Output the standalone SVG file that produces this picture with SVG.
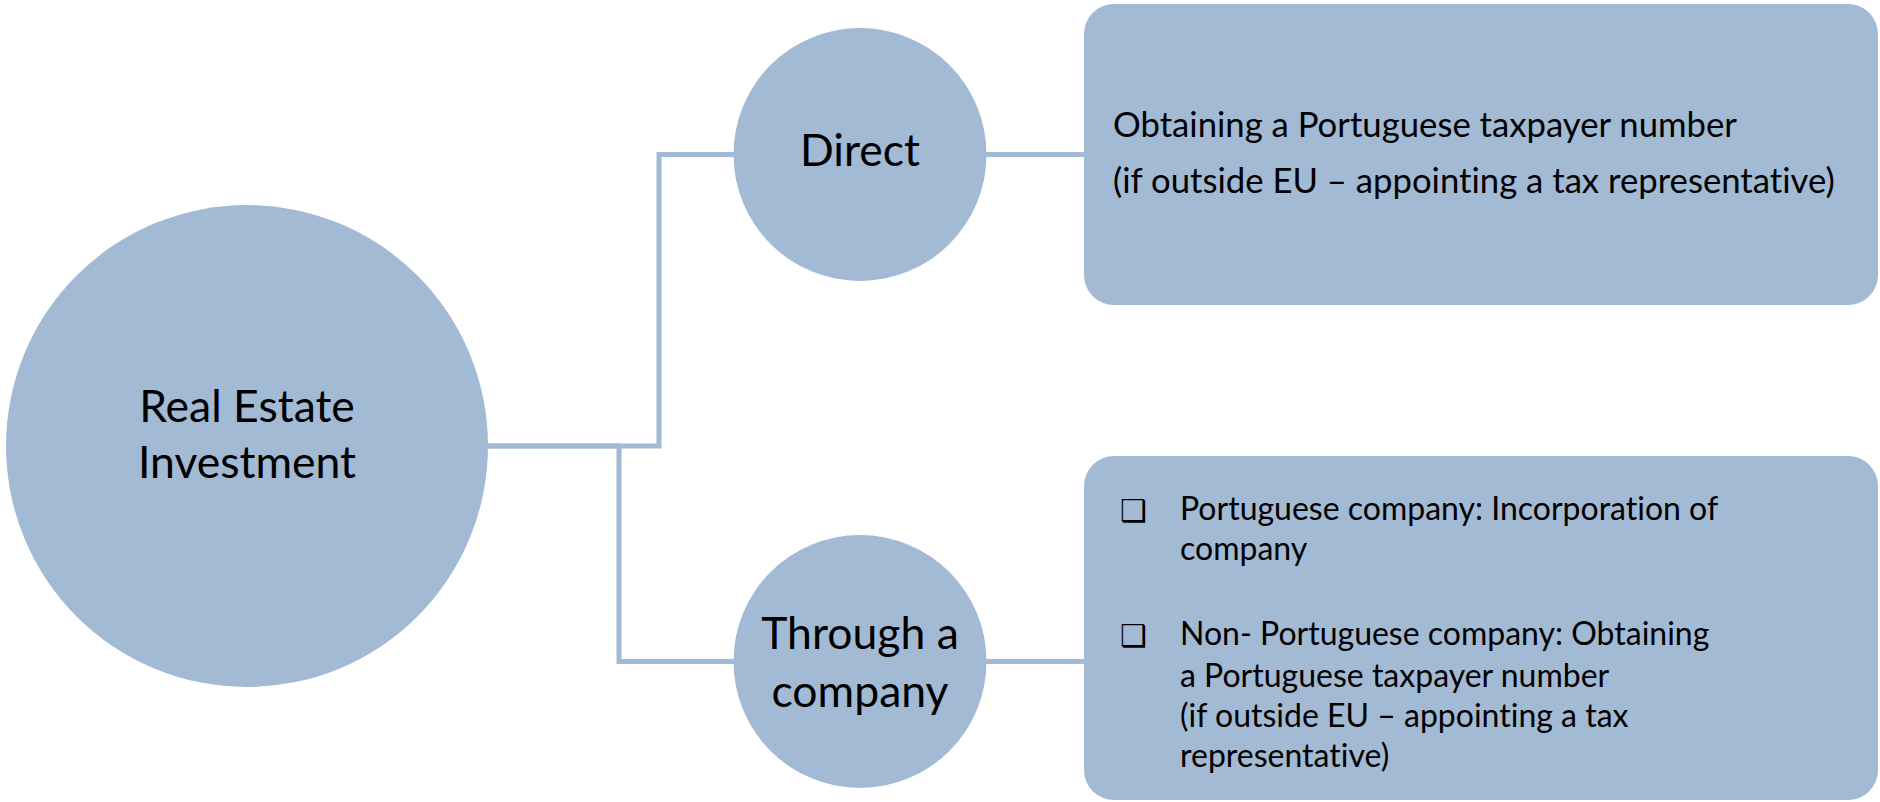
<svg xmlns="http://www.w3.org/2000/svg" width="1880" height="802" viewBox="0 0 1880 802">
  <style>
    .shape { fill: #A2BAD4; }
    .conn { fill: none; stroke: #A2BAD4; stroke-width: 5; }
    .t { font-family: Lato, "Liberation Sans", sans-serif; fill: #000; font-variant-ligatures: none; }
    .big { font-size: 44.5px; text-anchor: middle; }
    .box1 { font-size: 34.7px; }
    .box2 { font-size: 32px; }
    .chk { font-family: "DejaVu Sans", sans-serif; font-size: 30px; fill: #000; }
  </style>
  <rect width="1880" height="802" fill="#ffffff"/>
  <g id="connectors">
    <polyline class="conn" points="488,446 659,446 659,154.5 734,154.5"/>
    <polyline class="conn" points="488,446 619,446 619,661.5 734,661.5"/>
    <line class="conn" x1="986" y1="154.5" x2="1084" y2="154.5"/>
    <line class="conn" x1="986" y1="661.5" x2="1084" y2="661.5"/>
  </g>
  <g id="node-real-estate">
    <circle class="shape" cx="247" cy="446" r="241"/>
    <text class="t big" x="247" y="422">Real Estate</text>
    <text class="t big" x="247" y="478">Investment</text>
  </g>
  <g id="node-direct">
    <circle class="shape" cx="860" cy="154.5" r="126.5"/>
    <text class="t big" x="860" y="166">Direct</text>
  </g>
  <g id="node-company">
    <circle class="shape" cx="860" cy="661.5" r="126.5"/>
    <text class="t big" x="860" y="649">Through a</text>
    <text class="t big" x="860" y="707">company</text>
  </g>
  <g id="node-direct-detail">
    <rect class="shape" x="1084" y="4" width="794" height="301" rx="30" ry="30"/>
    <text class="t box1" x="1113" y="137">Obtaining a Portuguese taxpayer number</text>
    <text class="t box1" x="1113" y="193">(if outside EU – appointing a tax representative)</text>
  </g>
  <g id="node-company-detail">
    <rect class="shape" x="1084" y="456" width="794" height="344" rx="30" ry="30"/>
    <text class="chk" x="1120" y="521">❑</text>
    <text class="t box2" x="1180" y="520">Portuguese company: Incorporation of</text>
    <text class="t box2" x="1180" y="560">company</text>
    <text class="chk" x="1120" y="646">❑</text>
    <text class="t box2" x="1180" y="645">Non- Portuguese company: Obtaining</text>
    <text class="t box2" x="1180" y="687">a Portuguese taxpayer number</text>
    <text class="t box2" x="1180" y="727">(if outside EU – appointing a tax</text>
    <text class="t box2" x="1180" y="767">representative)</text>
  </g>
</svg>
